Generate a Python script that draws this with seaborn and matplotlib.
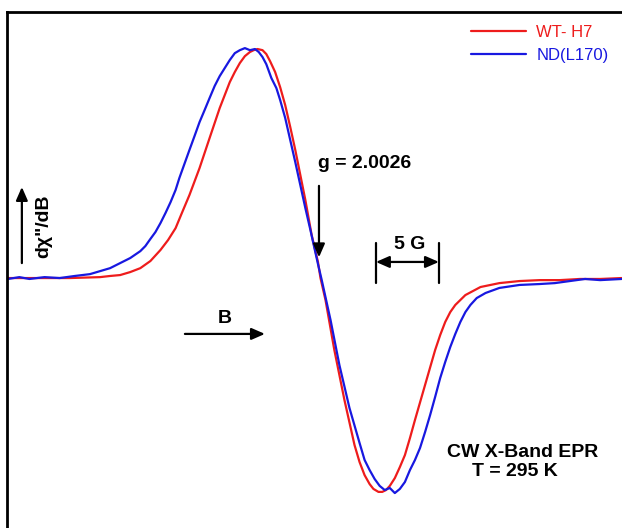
import numpy as np
import pandas as pd
import matplotlib
matplotlib.use("Agg")
import matplotlib.pyplot as plt
import seaborn as sns

# Field offset from g = 2.0026 (G) and derivative intensity (arb. units)
wt_field = [-24.6, -22.1, -19.7, -17.3, -16.5, -15.7, -14.9, -14.1, -13.3, -12.5,
            -11.9, -11.3, -10.8, -10.2, -9.4, -8.6, -7.8, -7.0, -6.6, -6.2,
            -5.8, -5.4, -5.1, -4.8, -4.4, -4.1, -3.8, -3.4, -3.0, -2.6,
            -2.2, -1.8, -1.4, -1.0, -0.5, 0.0, 0.2, 0.6, 1.3, 2.1,
            2.9, 3.3, 3.7, 4.1, 4.4, 4.8, 5.1, 5.4, 5.7, 6.1,
            6.5, 6.9, 7.3, 7.7, 8.5, 9.3, 9.7, 10.1, 10.5, 10.9,
            11.7, 12.9, 14.4, 16.0, 17.6, 19.2, 20.8, 22.4, 24.1]
wt_signal = [0.0, 0.0, 0.0, 0.4, 0.9, 1.3, 2.6, 4.3, 7.4, 12.2,
             16.5, 21.7, 28.3, 36.1, 47.8, 60.9, 73.9, 85.2, 89.6, 93.5,
             96.5, 98.3, 99.1, 99.6, 99.1, 97.4, 94.3, 89.6, 83.0, 75.2,
             65.7, 55.7, 44.8, 33.9, 18.7, 7.0, 0.0, -9.6, -31.3, -53.0,
             -72.6, -80.0, -85.7, -89.6, -91.7, -93.0, -93.0, -92.2, -90.4, -87.0,
             -82.2, -77.0, -69.6, -61.7, -46.5, -31.3, -24.8, -19.1, -14.8, -11.7,
             -7.4, -3.9, -2.2, -1.3, -0.9, -0.9, -0.4, -0.4, 0.0]

nd_field = [-24.6, -23.7, -22.9, -21.7, -20.5, -19.3, -18.1, -17.3, -16.5, -15.7,
            -14.9, -14.1, -13.7, -13.3, -12.9, -12.5, -12.1, -11.7, -11.3, -11.0,
            -10.6, -10.2, -9.8, -9.4, -9.0, -8.6, -8.2, -7.8, -7.4, -7.0,
            -6.6, -6.2, -5.8, -5.4, -5.0, -4.7, -4.4, -4.1, -3.7, -3.3,
            -3.0, -2.6, -2.2, -1.8, -1.4, -1.0, -0.6, 0.0, 0.3, 1.0,
            1.7, 2.5, 3.3, 3.7, 4.1, 4.5, 4.9, 5.3, 5.7, 6.1,
            6.5, 6.9, 7.3, 7.7, 8.1, 8.5, 8.9, 9.3, 9.7, 10.1,
            10.5, 10.9, 11.3, 11.7, 12.1, 12.6, 13.3, 14.4, 16.0, 17.6,
            18.8, 20.0, 21.2, 22.4, 24.1]
nd_signal = [-0.4, 0.4, -0.4, 0.4, 0.0, 0.9, 1.7, 3.0, 4.3, 6.5,
             8.7, 11.7, 13.9, 17.0, 20.0, 23.9, 28.3, 33.0, 38.3, 43.5,
             49.6, 55.7, 61.7, 67.8, 73.0, 78.3, 83.5, 87.8, 91.3, 94.8,
             97.8, 99.1, 100.0, 99.1, 99.6, 98.3, 96.1, 93.0, 87.0, 82.6,
             77.4, 69.6, 60.0, 50.4, 40.4, 30.4, 20.9, 6.1, -0.9, -18.3,
             -37.8, -56.5, -71.7, -79.1, -83.5, -87.4, -90.4, -92.2, -91.3, -93.5,
             -91.7, -88.7, -83.5, -79.1, -73.9, -67.0, -59.6, -51.7, -43.5, -36.5,
             -30.0, -24.3, -19.1, -14.8, -11.7, -8.7, -6.5, -4.3, -3.0, -2.6,
             -2.2, -1.3, -0.4, -0.9, -0.4]

labels = ["WT- H7", "ND(L170)"]
colors = ["#ee1c1c", "#1818e0"]

df = pd.concat([
    pd.DataFrame({"field": wt_field, "signal": wt_signal, "sample": labels[0]}),
    pd.DataFrame({"field": nd_field, "signal": nd_signal, "sample": labels[1]}),
], ignore_index=True)

sns.set_style("white")
plt.rcParams["font.family"] = ["Liberation Sans", "DejaVu Sans"]

fig = plt.figure(figsize=(6.22, 5.28), dpi=100)
ax = fig.add_axes([7 / 622, 0.0, 615 / 622, 516 / 528])

sns.lineplot(data=df, x="field", y="signal", hue="sample", hue_order=labels,
             palette=colors, linewidth=1.6, ax=ax, sort=False, estimator=None)

ax.set_xlim(-24.68, 24.13)
ax.set_ylim(-108.7, 115.7)
ax.set_xticks([])
ax.set_yticks([])
ax.set_xlabel("")
ax.set_ylabel("")
for s in ["right", "bottom"]:
    ax.spines[s].set_visible(False)
for s in ["left", "top"]:
    ax.spines[s].set_visible(True)
    ax.spines[s].set_color("black")
    ax.spines[s].set_linewidth(2.0)

leg = ax.legend(loc="upper right", frameon=False, fontsize=12,
                handlelength=3.3, handletextpad=0.6, labelcolor="linecolor",
                bbox_to_anchor=(1.0, 1.0), borderaxespad=0.4, labelspacing=0.45)
for ln in leg.get_lines():
    ln.set_linewidth(1.6)

bold = dict(fontweight="bold", fontsize=14, color="black")
arrow_kw = dict(arrowstyle="-|>,head_length=0.8,head_width=0.35", color="black", lw=1.6)

# g-value marker
ax.text(3.73, 50.0, "g = 2.0026", ha="center", va="center", **bold)
ax.annotate("", xy=(0.08, 7.8), xytext=(0.08, 41.3), arrowprops=arrow_kw)

# 5 G scale bar
ax.text(7.3, 14.8, "5 G", ha="center", va="center", **bold)
ax.plot([4.6, 4.6], [15.2, -2.2], color="black", lw=1.6)
ax.plot([9.6, 9.6], [15.2, -2.2], color="black", lw=1.6)
ax.annotate("", xy=(4.6, 7.0), xytext=(9.6, 7.0),
            arrowprops=dict(arrowstyle="<|-|>,head_length=0.8,head_width=0.35",
                            color="black", lw=1.6, shrinkA=0, shrinkB=0))

# Field direction
ax.text(-7.38, -17.8, "B", ha="center", va="center", **bold)
ax.annotate("", xy=(-4.21, -24.3), xytext=(-10.56, -24.3),
            arrowprops=dict(arrow_kw, shrinkA=0, shrinkB=0))

# Y label with arrow
ax.text(-21.8, 22.6, "dχ\"/dB", ha="center", va="center", rotation=90, **bold)
ax.annotate("", xy=(-23.5, 39.6), xytext=(-23.5, 6.5),
            arrowprops=dict(arrow_kw, shrinkA=0, shrinkB=0))

# Experimental conditions
ax.text(10.24, -75.7, "CW X-Band EPR", ha="left", va="center", **bold)
ax.text(12.22, -84.3, "T = 295 K", ha="left", va="center", **bold)

fig.savefig("out.png", dpi=100)
